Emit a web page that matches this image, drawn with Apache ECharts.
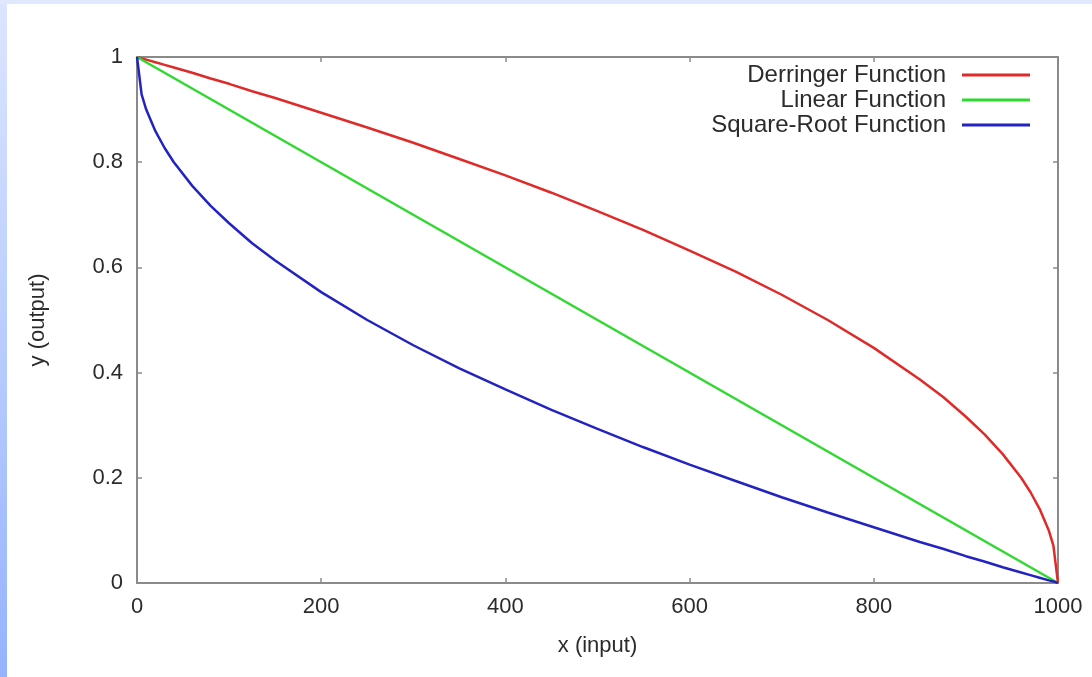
<!DOCTYPE html>
<html>
<head>
<meta charset="utf-8">
<script src="https://cdn.jsdelivr.net/npm/echarts@6/dist/echarts.min.js"></script>
<style>
  html, body {
    margin: 0;
    padding: 0;
    width: 1092px;
    height: 677px;
    overflow: hidden;
  }
  body {
    background: linear-gradient(to bottom, #dbe5fd 0%, #b9cdfd 50%, #95b3fd 100%);
  }
  .top-band {
    position: absolute;
    left: 0;
    top: 0;
    width: 1092px;
    height: 4px;
    background: #dfe8fc;
  }
  .chart-body {
    position: absolute;
    left: 7px;
    top: 4px;
    width: 1085px;
    height: 673px;
    background: #ffffff;
  }
</style>
</head>
<body>
<div class="top-band"></div>
<div id="chart" class="chart-body"></div>
<script>
// sample inputs
const xInput = [0, 5, 10, 20, 30, 40, 60, 80, 100, 125, 150, 200, 250, 300, 350, 400, 450, 500,
  550, 600, 650, 700, 750, 800, 850, 875, 900, 920, 940, 960, 970, 980, 990, 995, 1000];
const derringer = [1, 0.997, 0.995, 0.990, 0.985, 0.980, 0.970, 0.959, 0.949, 0.935, 0.922,
  0.894, 0.866, 0.837, 0.806, 0.775, 0.742, 0.707, 0.671, 0.632, 0.592, 0.548, 0.500,
  0.447, 0.387, 0.354, 0.316, 0.283, 0.245, 0.200, 0.173, 0.141, 0.100, 0.071, 0];
const squareRoot = [1, 0.929, 0.900, 0.859, 0.827, 0.800, 0.755, 0.717, 0.684, 0.646, 0.613,
  0.553, 0.500, 0.452, 0.408, 0.368, 0.329, 0.293, 0.258, 0.225, 0.194, 0.163, 0.134,
  0.106, 0.078, 0.065, 0.051, 0.041, 0.030, 0.020, 0.015, 0.010, 0.005, 0.003, 0];
const linearX = [0, 1000];
const linearY = [1, 0];
const xTicks = [0, 200, 400, 600, 800, 1000];
const yTicks = [0, 0.2, 0.4, 0.6, 0.8, 1];
const seriesNames = ["Derringer Function", "Linear Function", "Square-Root Function"];
const seriesColors = ["#e02a2a", "#2fd92f", "#2323c2"];

const pairs = (xs, ys) => xs.map((x, i) => [x, ys[i]]);

const chartDom = document.getElementById("chart");
const myChart = echarts.init(chartDom);

const textColor = "#2b2b2b";
const boxColor = "#8a8a8a";
const fontFamily = "Liberation Sans, Arial, sans-serif";

const boxAxis = {
  axisLine: { show: true, onZero: false, lineStyle: { color: boxColor, width: 2 } },
  axisTick: { show: true, inside: true, length: 5, lineStyle: { color: boxColor, width: 1.5 } },
  splitLine: { show: false }
};

const legends = seriesNames.map((name, i) => ({
  data: [name],
  orient: "vertical",
  right: 62,
  top: 59 + i * 25,
  padding: 0,
  align: "right",
  icon: "rect",
  itemWidth: 68,
  itemHeight: 3,
  selectedMode: false,
  textStyle: {
    color: textColor,
    fontSize: 24,
    fontFamily: fontFamily,
    padding: [0, 11, 0, 0]
  }
}));

const chartOption = {
  animation: false,
  backgroundColor: "#ffffff",
  grid: { left: 130, top: 53, right: 34, bottom: 94 },
  legend: legends,
  xAxis: [
    Object.assign({
      type: "value",
      position: "bottom",
      min: xTicks[0],
      max: xTicks[xTicks.length - 1],
      interval: 200,
      name: "x (input)",
      nameLocation: "middle",
      nameGap: 52,
      nameTextStyle: { color: textColor, fontSize: 22, fontFamily: fontFamily },
      axisLabel: {
        color: textColor, fontSize: 22, fontFamily: fontFamily, margin: 13,
        formatter: v => String(v)
      }
    }, boxAxis),
    Object.assign({
      type: "value",
      position: "top",
      min: xTicks[0],
      max: xTicks[xTicks.length - 1],
      interval: 200,
      axisLabel: { show: false }
    }, boxAxis)
  ],
  yAxis: [
    Object.assign({
      type: "value",
      position: "left",
      min: yTicks[0],
      max: yTicks[yTicks.length - 1],
      interval: 0.2,
      name: "y (output)",
      nameLocation: "middle",
      nameGap: 88,
      nameRotate: 90,
      nameTextStyle: { color: textColor, fontSize: 22, fontFamily: fontFamily },
      axisLabel: {
        color: textColor, fontSize: 22, fontFamily: fontFamily, margin: 14,
        formatter: v => String(v)
      }
    }, boxAxis),
    Object.assign({
      type: "value",
      position: "right",
      min: yTicks[0],
      max: yTicks[yTicks.length - 1],
      interval: 0.2,
      axisLabel: { show: false }
    }, boxAxis)
  ],
  series: [
    {
      name: seriesNames[0],
      type: "line",
      data: pairs(xInput, derringer),
      symbol: "none",
      lineStyle: { color: seriesColors[0], width: 2.5 },
      itemStyle: { color: seriesColors[0] }
    },
    {
      name: seriesNames[1],
      type: "line",
      data: pairs(linearX, linearY),
      symbol: "none",
      lineStyle: { color: seriesColors[1], width: 2.5 },
      itemStyle: { color: seriesColors[1] }
    },
    {
      name: seriesNames[2],
      type: "line",
      data: pairs(xInput, squareRoot),
      symbol: "none",
      lineStyle: { color: seriesColors[2], width: 2.5 },
      itemStyle: { color: seriesColors[2] }
    }
  ]
};

myChart.setOption(chartOption);
</script>
</body>
</html>
